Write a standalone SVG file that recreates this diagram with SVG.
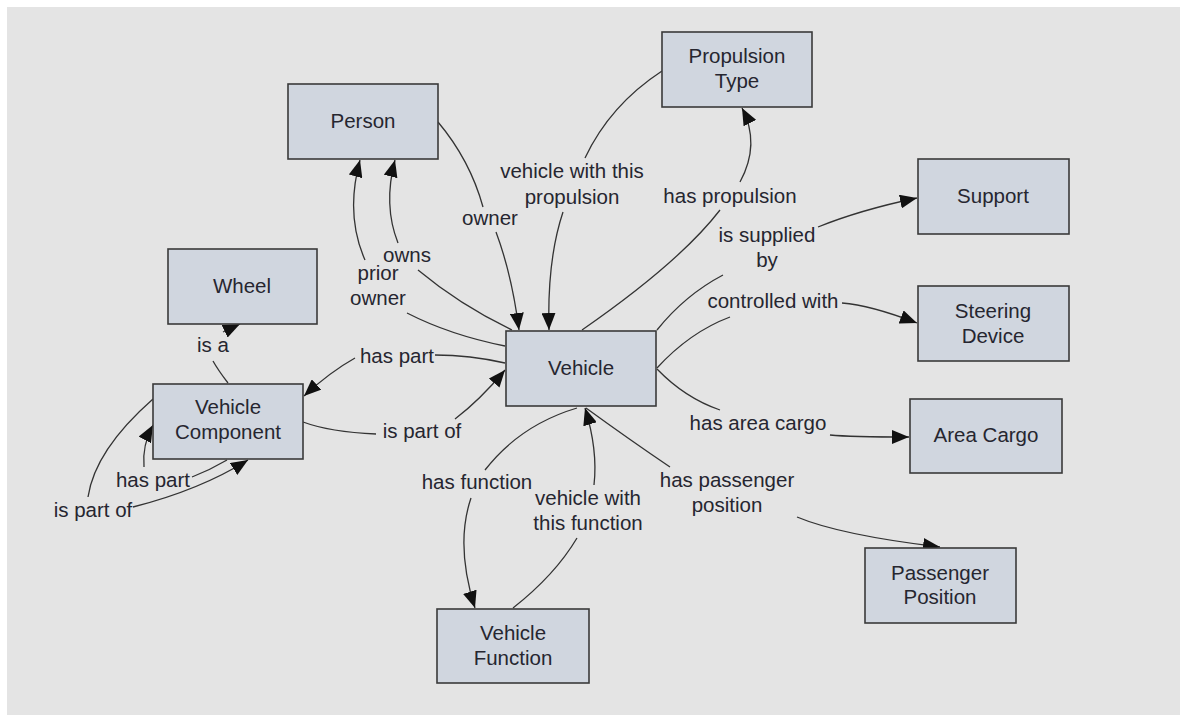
<svg xmlns="http://www.w3.org/2000/svg" width="1180" height="715" viewBox="0 0 1180 715">
<style>
.bg{fill:#e4e4e4}
.node rect{fill:#d0d6df;stroke:#3a3a3a;stroke-width:1.6}
text{font-family:"Liberation Sans",Arial,sans-serif;font-size:20.5px;fill:#262630;text-anchor:middle}
.edges path{fill:none;stroke:#333;stroke-width:1.3}
.edges path.a{marker-end:url(#arr)}
</style>
<defs>
<marker id="arr" viewBox="0 0 17 14" refX="17" refY="7" markerWidth="17" markerHeight="14" markerUnits="userSpaceOnUse" orient="auto">
<path d="M0,0 L17,7 L0,14 z" fill="#111"/>
</marker>
</defs>
<rect class="bg" x="7" y="7" width="1173" height="708"/>

<g class="edges" id="connectors">
<!-- owner -->
<path d="M438,122 Q470,160 483,207"/>
<path class="a" d="M496,232 Q512,275 519,330"/>
<!-- vehicle with this propulsion -->
<path d="M662,71 Q610,105 585,158"/>
<path class="a" d="M563,212 Q547,260 549,330"/>
<!-- has propulsion -->
<path d="M582,330 Q680,262 720,210"/>
<path class="a" d="M740,182 C752,160 756,135 742,108"/>
<!-- is supplied by -->
<path d="M657,330 Q685,295 723,275"/>
<path class="a" d="M818,227 Q860,210 917,198"/>
<!-- controlled with -->
<path d="M657,368 Q690,332 730,317"/>
<path class="a" d="M842,303 Q870,305 917,323"/>
<!-- has area cargo -->
<path d="M657,369 Q685,398 720,410"/>
<path class="a" d="M830,435 Q850,437 909,437"/>
<!-- has passenger position -->
<path d="M586,408 Q630,440 670,467"/>
<path class="a" d="M797,517 Q840,535 940,547"/>
<!-- has function -->
<path d="M577,408 Q520,425 485,470"/>
<path class="a" d="M471,498 Q455,545 475,608"/>
<!-- vehicle with this function -->
<path d="M513,608 Q555,575 577,538"/>
<path class="a" d="M594,485 Q598,450 585,408"/>
<!-- has part (Vehicle -> Vehicle Component) -->
<path d="M505,363 Q470,355 435,355"/>
<path class="a" d="M355,358 Q330,372 304,396"/>
<!-- is part of (Vehicle Component -> Vehicle) -->
<path d="M303,422 Q330,432 376,434"/>
<path class="a" d="M455,419 Q480,400 505,370"/>
<!-- owns -->
<path d="M512,330 Q460,305 418,270"/>
<path class="a" d="M398,243 Q383,205 395,160"/>
<!-- prior owner -->
<path d="M505,346 Q450,335 407,313"/>
<path class="a" d="M365,260 Q345,215 360,160"/>
<!-- is a -->
<path d="M228,383 Q218,370 213,361"/>
<path class="a" d="M223,332 L240,324"/>
<!-- has part (self) -->
<path d="M227,460 Q210,470 192,477"/>
<path class="a" d="M144,467 Q142,445 153,425"/>
<!-- is part of (self) -->
<path d="M153,399 Q95,450 88,497"/>
<path class="a" d="M133,507 Q200,490 248,460"/>

<g id="edge-labels">
<text x="490" y="225">owner</text>
<text x="572" y="178">vehicle with this</text>
<text x="572" y="204">propulsion</text>
<text x="730" y="203">has propulsion</text>
<text x="767" y="242">is supplied</text>
<text x="767" y="267">by</text>
<text x="773" y="308">controlled with</text>
<text x="758" y="430">has area cargo</text>
<text x="727" y="487">has passenger</text>
<text x="727" y="512">position</text>
<text x="477" y="489">has function</text>
<text x="588" y="505">vehicle with</text>
<text x="588" y="530">this function</text>
<text x="397" y="363">has part</text>
<text x="422" y="438">is part of</text>
<text x="407" y="262">owns</text>
<text x="378" y="280">prior</text>
<text x="378" y="305">owner</text>
<text x="213" y="352">is a</text>
<text x="153" y="487">has part</text>
<text x="93" y="517">is part of</text>
</g>
</g>

<g class="node" id="person"><rect x="288" y="84" width="150" height="75"/><text x="363" y="128">Person</text></g>
<g class="node" id="propulsion-type"><rect x="662" y="32" width="150" height="75"/><text x="737" y="63">Propulsion</text><text x="737" y="88">Type</text></g>
<g class="node" id="support"><rect x="918" y="159" width="151" height="75"/><text x="993" y="203">Support</text></g>
<g class="node" id="steering-device"><rect x="918" y="286" width="151" height="75"/><text x="993" y="318">Steering</text><text x="993" y="343">Device</text></g>
<g class="node" id="area-cargo"><rect x="910" y="399" width="152" height="74"/><text x="986" y="442">Area Cargo</text></g>
<g class="node" id="passenger-position"><rect x="865" y="548" width="151" height="75"/><text x="940" y="580">Passenger</text><text x="940" y="604">Position</text></g>
<g class="node" id="vehicle"><rect x="506" y="331" width="150" height="75"/><text x="581" y="375">Vehicle</text></g>
<g class="node" id="vehicle-function"><rect x="437" y="609" width="152" height="74"/><text x="513" y="640">Vehicle</text><text x="513" y="665">Function</text></g>
<g class="node" id="wheel"><rect x="168" y="249" width="149" height="75"/><text x="242" y="293">Wheel</text></g>
<g class="node" id="vehicle-component"><rect x="153" y="384" width="150" height="75"/><text x="228" y="414">Vehicle</text><text x="228" y="439">Component</text></g>
</svg>
